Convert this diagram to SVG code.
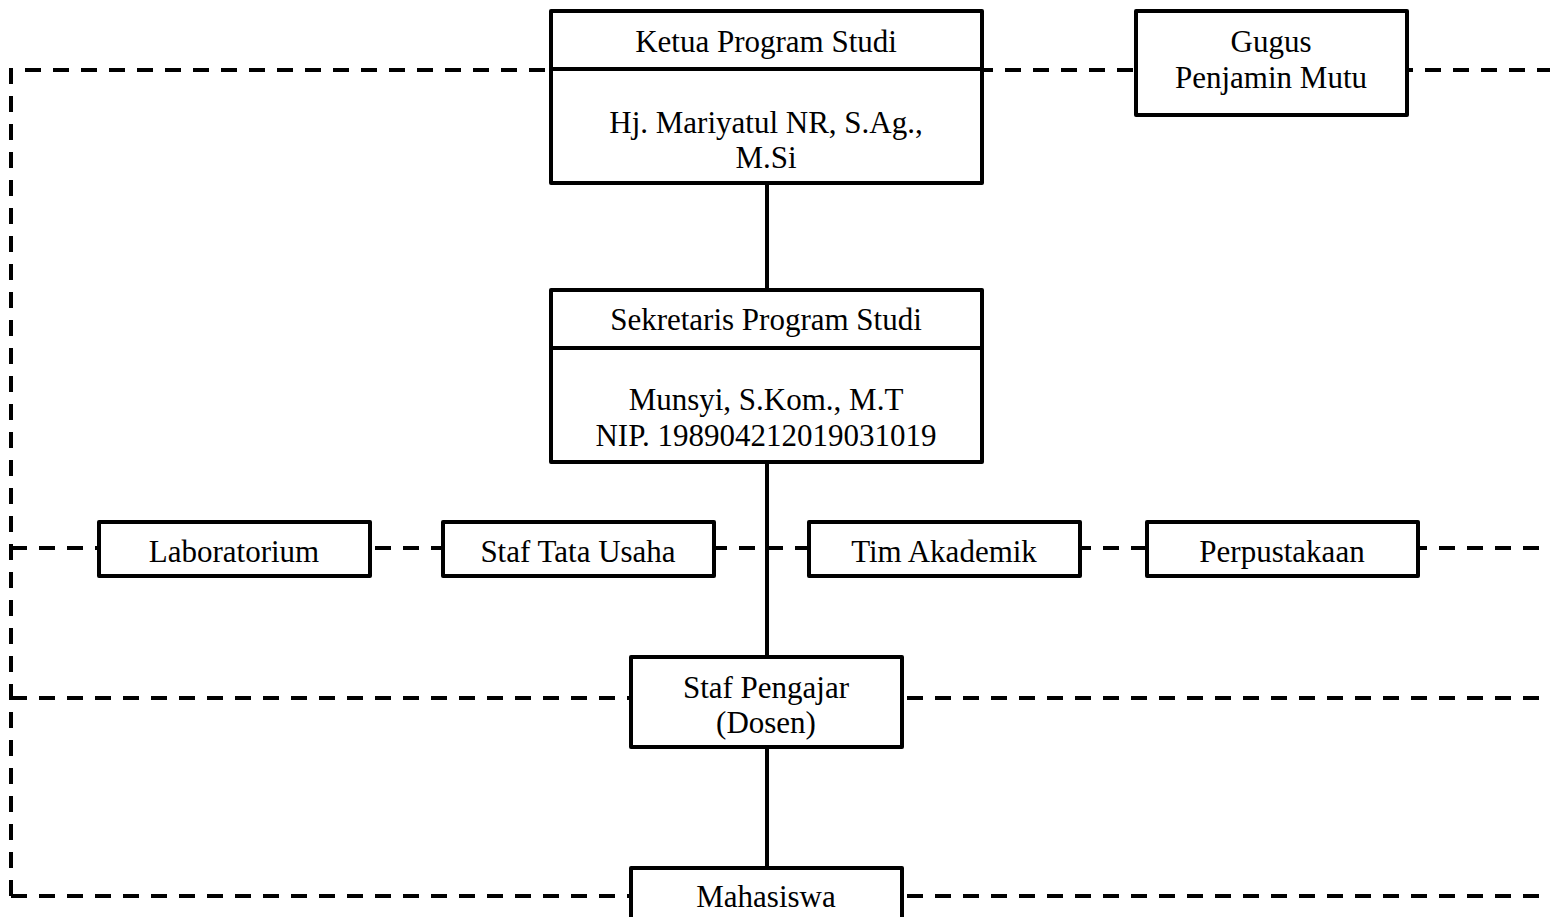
<svg xmlns="http://www.w3.org/2000/svg" width="1550" height="917" viewBox="0 0 1550 917">
<style>
.box{fill:#fff;stroke:#000;stroke-width:4;stroke-linejoin:round}
.dash{fill:none;stroke:#000;stroke-width:4;stroke-dasharray:16 12}
.solid{fill:none;stroke:#000;stroke-width:4}
text{font-family:"Liberation Serif","Times New Roman",serif;font-size:31px;fill:#000;text-anchor:middle}
</style>
<rect width="1550" height="917" fill="#fff"/>
<g id="connectors">
<path class="dash" d="M11,896 V70 H1550"/>
<path class="dash" d="M11,548 H1550"/>
<path class="dash" d="M11,698 H1550"/>
<path class="dash" d="M11,896 H1550"/>
<path class="solid" d="M767,183 V290 M767,462 V657 M767,747 V868"/>
</g>
<g id="ketua">
<rect class="box" x="551" y="11" width="431" height="172"/>
<line class="solid" x1="551" y1="69" x2="982" y2="69"/>
<text x="766" y="52">Ketua Program Studi</text>
<text x="766" y="133">Hj. Mariyatul NR, S.Ag.,</text>
<text x="766" y="168">M.Si</text>
</g>
<g id="gugus">
<rect class="box" x="1136" y="11" width="271" height="104"/>
<text x="1271" y="52">Gugus</text>
<text x="1271" y="88">Penjamin Mutu</text>
</g>
<g id="sekretaris">
<rect class="box" x="551" y="290" width="431" height="172"/>
<line class="solid" x1="551" y1="348" x2="982" y2="348"/>
<text x="766" y="330">Sekretaris Program Studi</text>
<text x="766" y="410">Munsyi, S.Kom., M.T</text>
<text x="766" y="446">NIP. 198904212019031019</text>
</g>
<g id="laboratorium">
<rect class="box" x="99" y="522" width="271" height="54"/>
<text x="234" y="562">Laboratorium</text>
</g>
<g id="staf-tata-usaha">
<rect class="box" x="443" y="522" width="271" height="54"/>
<text x="578" y="562">Staf Tata Usaha</text>
</g>
<g id="tim-akademik">
<rect class="box" x="809" y="522" width="271" height="54"/>
<text x="944" y="562">Tim Akademik</text>
</g>
<g id="perpustakaan">
<rect class="box" x="1147" y="522" width="271" height="54"/>
<text x="1282" y="562">Perpustakaan</text>
</g>
<g id="staf-pengajar">
<rect class="box" x="631" y="657" width="271" height="90"/>
<text x="766" y="698">Staf Pengajar</text>
<text x="766" y="733">(Dosen)</text>
</g>
<g id="mahasiswa">
<rect class="box" x="631" y="868" width="271" height="60"/>
<text x="766" y="907">Mahasiswa</text>
</g>
</svg>
